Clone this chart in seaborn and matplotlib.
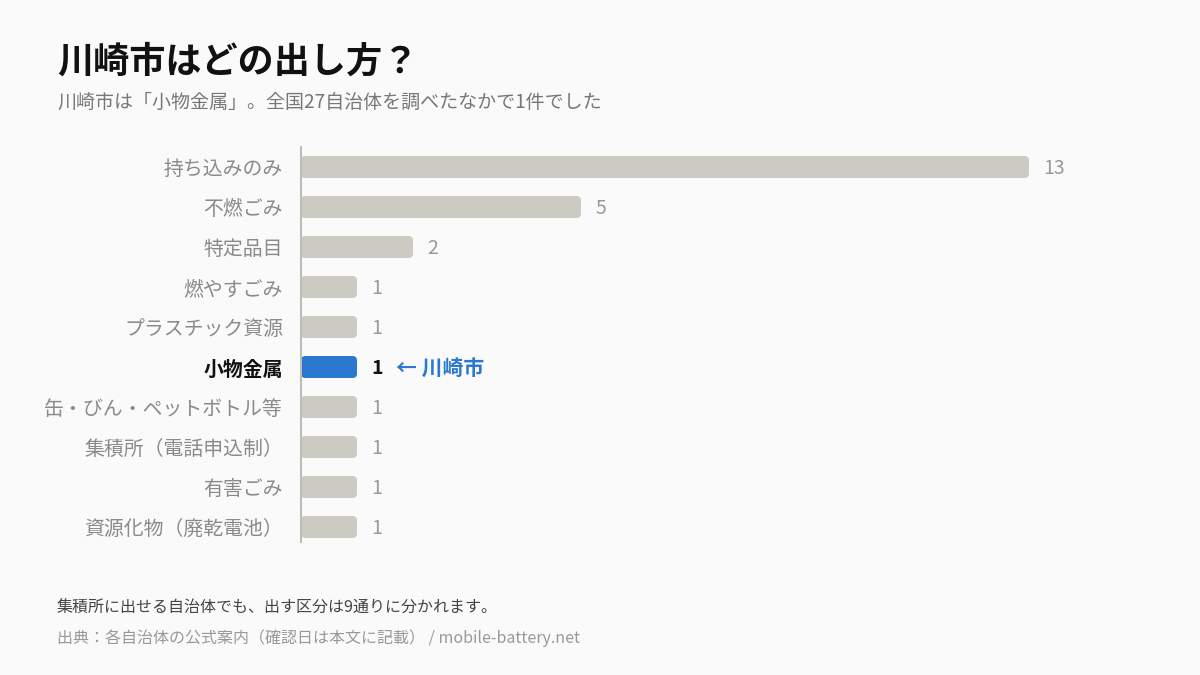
import matplotlib
matplotlib.use("Agg")
import matplotlib.pyplot as plt
import seaborn as sns
import pandas as pd
from matplotlib.patches import FancyBboxPatch

# データ
categories = ["持ち込みのみ", "不燃ごみ", "特定品目", "燃やすごみ", "プラスチック資源",
              "小物金属", "缶・びん・ペットボトル等", "集積所（電話申込制）", "有害ごみ", "資源化物（廃乾電池）"]
counts = [13, 5, 2, 1, 1, 1, 1, 1, 1, 1]
highlight = "小物金属"

title = "川崎市はどの出し方？"
subtitle = "川崎市は「小物金属」。全国27自治体を調べたなかで1件でした"
note = "集積所に出せる自治体でも、出す区分は9通りに分かれます。"
source = "出典：各自治体の公式案内（確認日は本文に記載） / mobile-battery.net"

bg = "#fafafa"
gray = "#cbcac3"
blue = "#2b78d0"

sns.set_theme(style="white")
plt.rcParams["font.family"] = ["Noto Sans CJK JP", "DejaVu Sans"]

df = pd.DataFrame({"cat": categories, "n": counts})
palette = {c: (blue if c == highlight else gray) for c in categories}

fig = plt.figure(figsize=(12, 6.75), dpi=100, facecolor=bg)
ax = fig.add_axes([301 / 1200, 1 - 542 / 675, (1100 - 301) / 1200, (542 - 147) / 675])
ax.set_facecolor(bg)

sns.barplot(data=df, x="n", y="cat", hue="cat", palette=palette, legend=False,
            width=0.55, ax=ax, saturation=1)

xmax = (1100 - 301) / 56
ax.set_xlim(0, xmax)
ax.set_ylim(9.375, -0.5)

# 角丸に置き換え
for p in list(ax.patches):
    x, y, w, h = p.get_x(), p.get_y(), p.get_width(), p.get_height()
    fc = p.get_facecolor()
    p.remove()
    ax.add_patch(FancyBboxPatch((x, y), w, h,
                                boxstyle="round,pad=0,rounding_size=0.08",
                                mutation_aspect=1.4, fc=fc, ec="none", zorder=2))

for i, (c, n) in enumerate(zip(categories, counts)):
    if c == highlight:
        ax.text(n + 0.25, i + 0.04, str(n), va="center", ha="left", fontsize=14,
                fontweight="bold", color="#111111")
        ax.text(n + 0.7, i + 0.04, "← 川崎市", va="center", ha="left", fontsize=15,
                fontweight="bold", color=blue)
    else:
        ax.text(n + 0.25, i + 0.04, str(n), va="center", ha="left", fontsize=14, color="#999999")

ax.set_xlabel("")
ax.set_ylabel("")
ax.set_xticks([])
ax.tick_params(axis="y", length=0, pad=13)
for lab in ax.get_yticklabels():
    lab.set_fontsize(14.3)
    if lab.get_text() == highlight:
        lab.set_color("#111111")
        lab.set_fontweight("bold")
    else:
        lab.set_color("#8a8a8a")

for s in ["top", "right", "bottom"]:
    ax.spines[s].set_visible(False)
ax.spines["left"].set_color("#bdbcb5")
ax.spines["left"].set_linewidth(1.5)
ax.spines["left"].set_zorder(3)

fig.text(57 / 1200, 1 - 62 / 675, title, fontsize=26, fontweight="bold",
         color="#111111", va="center", ha="left")
fig.text(57 / 1200, 1 - 102 / 675, subtitle, fontsize=13.7, color="#777777",
         va="center", ha="left")
fig.text(57 / 1200, 1 - 608 / 675, note, fontsize=11.5, color="#444444",
         va="center", ha="left")
fig.text(57 / 1200, 1 - 638 / 675, source, fontsize=11.5, color="#999999",
         va="center", ha="left")

fig.savefig("out.png", dpi=100, facecolor=bg)
